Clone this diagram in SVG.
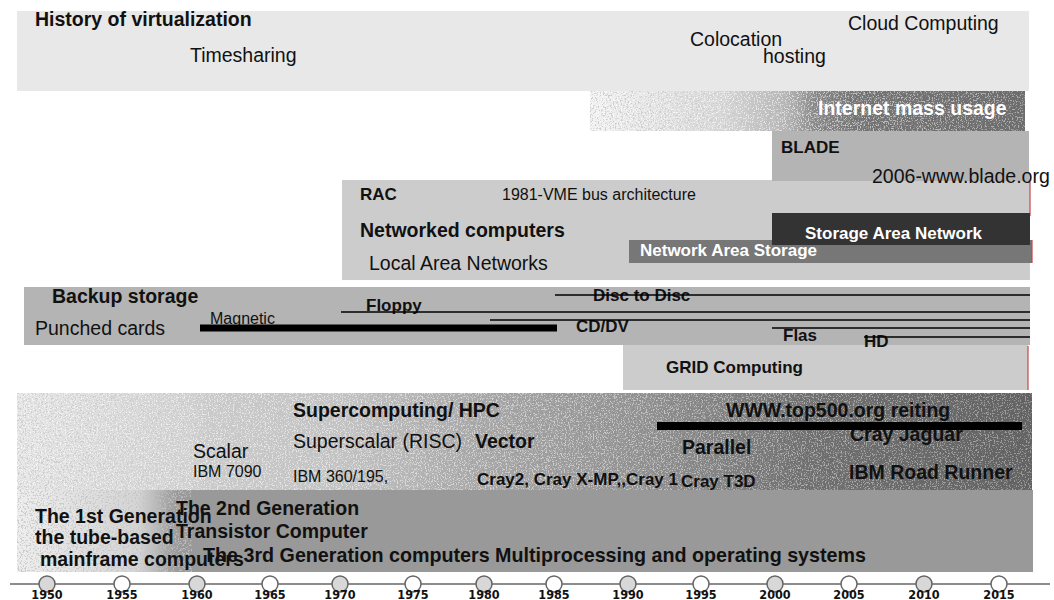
<svg xmlns="http://www.w3.org/2000/svg" width="1054" height="600" viewBox="0 0 1054 600">
<style>
text{font-family:"Liberation Sans",Arial,sans-serif;fill:#111}
.B{font-size:19.5px;font-weight:bold}
.R{font-size:19.5px}
.b{font-size:17px;font-weight:bold}
.r{font-size:16px}
.w{fill:#fff}
.yr{font-family:"Liberation Sans Narrow","DejaVu Sans Condensed",sans-serif;font-size:12.5px;font-weight:bold;text-anchor:middle}
.ln{stroke:#000;stroke-width:1.6}
.red{stroke:#c04848;stroke-width:1.2}
.tick{stroke:#666;stroke-width:1.5;fill:#fff}
.tick.g{fill:#d8d8d8}
</style>
<defs>
<linearGradient id="gInet" x1="0" x2="1" y1="0" y2="0">
<stop offset="0" stop-color="#f2f2f2"/><stop offset="0.3" stop-color="#d8d8d8"/><stop offset="0.45" stop-color="#b4b4b4"/><stop offset="0.52" stop-color="#858585"/><stop offset="0.62" stop-color="#717171"/><stop offset="1" stop-color="#6c6c6c"/>
</linearGradient>
<linearGradient id="gSuper" x1="0" x2="1" y1="0" y2="0">
<stop offset="0" stop-color="#e6e6e6"/><stop offset="0.17" stop-color="#d2d2d2"/><stop offset="0.19" stop-color="#cbcbcb"/><stop offset="0.32" stop-color="#c2c2c2"/><stop offset="0.45" stop-color="#a6a6a6"/><stop offset="0.62" stop-color="#8e8e8e"/><stop offset="0.78" stop-color="#6e6e6e"/><stop offset="1" stop-color="#626262"/>
</linearGradient>
<linearGradient id="gGen" x1="0" x2="1" y1="0" y2="0">
<stop offset="0" stop-color="#eeeeee"/><stop offset="0.12" stop-color="#d4d4d4"/><stop offset="0.15" stop-color="#a2a2a2"/><stop offset="0.16" stop-color="#999"/><stop offset="1" stop-color="#999"/>
</linearGradient>
<filter id="speck" x="0" y="0" width="100%" height="100%">
<feTurbulence type="fractalNoise" baseFrequency="0.75" numOctaves="2" seed="4" result="n"/>
<feColorMatrix in="n" type="matrix" values="0 0 0 0 1  0 0 0 0 1  0 0 0 0 1  9 0 0 0 -4.9"/>
<feComposite in2="SourceGraphic" operator="in"/>
</filter>
<filter id="dspeck" x="0" y="0" width="100%" height="100%">
<feTurbulence type="fractalNoise" baseFrequency="0.6" numOctaves="2" seed="9" result="n"/>
<feColorMatrix in="n" type="matrix" values="0 0 0 0 0.55  0 0 0 0 0.55  0 0 0 0 0.55  9 0 0 0 -4.8"/>
<feComposite in2="SourceGraphic" operator="in"/>
</filter>
<linearGradient id="fade" x1="0" x2="1"><stop offset="0" stop-color="#fff" stop-opacity="1"/><stop offset="1" stop-color="#fff" stop-opacity="0.6"/></linearGradient>
<linearGradient id="dfade" x1="0" x2="1"><stop offset="0" stop-color="#fff" stop-opacity="1"/><stop offset="0.4" stop-color="#fff" stop-opacity="0.6"/><stop offset="1" stop-color="#fff" stop-opacity="0"/></linearGradient>
</defs>
<rect width="1054" height="600" fill="#fff"/>

<g id="virtualization">
<rect x="17" y="11" width="1012" height="80" fill="#e8e8e8"/>
<text class="B" x="35" y="26">History of virtualization</text>
<text class="R" x="190" y="62">Timesharing</text>
<text class="R" x="690" y="46">Colocation</text>
<text class="R" x="763" y="63">hosting</text>
<text class="R" x="848" y="30">Cloud Computing</text>
</g>

<g id="internet">
<rect x="590" y="91" width="435" height="40" fill="url(#gInet)"/>
<rect x="590" y="91" width="435" height="40" fill="url(#dfade)" filter="url(#dspeck)" opacity="0.8"/>
<rect x="590" y="91" width="435" height="40" fill="url(#fade)" filter="url(#speck)" opacity="0.7"/>
<text class="B w" x="818" y="115">Internet mass usage</text>
</g>

<g id="rac">
<rect x="342" y="180" width="688" height="100" fill="#cccccc"/>
<line class="red" x1="1030" y1="182" x2="1030" y2="216"/>
<text class="b" x="360" y="200">RAC</text>
<text class="r" x="502" y="200">1981-VME bus architecture</text>
<text class="B" x="360" y="237">Networked computers</text>
<text class="R" x="369" y="270">Local Area Networks</text>
</g>

<g id="blade">
<rect x="772" y="131" width="257" height="50" fill="#b4b4b4"/>
<text class="b" x="781" y="153">BLADE</text>
<text class="R" x="872" y="183">2006-www.blade.org</text>
</g>

<g id="nas">
<rect x="629" y="240" width="403" height="23" fill="#777777"/>
<line class="red" x1="1032" y1="240" x2="1032" y2="263"/>
<text class="b w" x="640" y="256">Network Area Storage</text>
</g>

<g id="san">
<rect x="772" y="213" width="258" height="32" fill="#333333"/>
<text class="b w" x="805" y="239">Storage Area Network</text>
</g>

<g id="grid">
<rect x="623" y="345" width="405" height="45" fill="#cccccc"/>
<line class="red" x1="1028" y1="346" x2="1028" y2="390"/>
<text class="b" x="666" y="373">GRID Computing</text>
</g>

<g id="backup">
<rect x="24" y="287" width="1006" height="58" fill="#b4b4b4"/>
<text class="B" x="52" y="303">Backup storage</text>
<text class="R" x="35" y="335">Punched cards</text>
<text class="r" x="210" y="324">Magnetic</text>
<text class="b" x="366" y="311">Floppy</text>
<text class="b" x="593" y="301">Disc to Disc</text>
<text class="b" x="576" y="332">CD/DV</text>
<text class="b" x="783" y="341">Flas</text>
<text class="b" x="864" y="347">HD</text>
</g>

<g id="supercomputing">
<rect x="17" y="393" width="1015" height="99" fill="url(#gSuper)"/>
<rect x="17" y="393" width="1015" height="99" fill="url(#dfade)" filter="url(#dspeck)" opacity="0.7"/>
<rect x="17" y="393" width="1015" height="99" fill="url(#fade)" filter="url(#speck)" opacity="0.6"/>
<text class="B" x="293" y="417">Supercomputing/ HPC</text>
<text class="R" x="293" y="448">Superscalar (RISC)</text>
<text class="B" x="475" y="448">Vector</text>
<text class="R" x="193" y="458">Scalar</text>
<text class="r" x="193" y="477">IBM 7090</text>
<text class="r" x="293" y="482">IBM 360/195,</text>
<text class="b" x="477" y="485">Cray2, Cray X-MP,,Cray 1</text>
<text class="b" x="681" y="487">Cray T3D</text>
<text class="B" x="682" y="454">Parallel</text>
<text class="B" x="726" y="417">WWW.top500.org reiting</text>
<text class="B" x="850" y="441">Cray Jaguar</text>
<rect x="657" y="422" width="365" height="8" fill="#000"/>
<text class="B" x="849" y="479">IBM Road Runner</text>
</g>

<g id="generations">
<rect x="17" y="490" width="1016" height="82" fill="url(#gGen)"/>
<rect x="17" y="490" width="175" height="82" fill="#fff" filter="url(#dspeck)" opacity="0.8"/>
<text class="B" x="35" y="523">The 1st Generation</text>
<text class="B" x="35" y="544">the tube-based</text>
<text class="B" x="40" y="566">mainframe computers</text>
<text class="B" x="176" y="515">The 2nd Generation</text>
<text class="B" x="176" y="538">Transistor Computer</text>
<text class="B" x="203" y="562" style="font-size:19.7px">The 3rd Generation computers Multiprocessing and operating systems</text>
</g>

<g id="connectors">
<line x1="200" y1="328" x2="557" y2="328" stroke="#000" stroke-width="7"/>
<line class="ln" x1="341" y1="312" x2="1030" y2="312"/>
<line class="ln" x1="490" y1="320" x2="1030" y2="320"/>
<line class="ln" x1="555" y1="295" x2="1030" y2="295"/>
<line class="ln" x1="772" y1="328" x2="1030" y2="328"/>
<line class="ln" x1="864" y1="337" x2="1030" y2="337"/>
</g>

<g id="timeline">
<line x1="10" y1="584" x2="1050" y2="584" stroke="#666" stroke-width="1.5"/>
<circle class="tick g" cx="47" cy="584" r="8"/>
<circle class="tick" cx="122" cy="584" r="8"/>
<circle class="tick g" cx="197" cy="584" r="8"/>
<circle class="tick" cx="270" cy="584" r="8"/>
<circle class="tick g" cx="340" cy="584" r="8"/>
<circle class="tick" cx="413" cy="584" r="8"/>
<circle class="tick g" cx="484" cy="584" r="8"/>
<circle class="tick" cx="554" cy="584" r="8"/>
<circle class="tick g" cx="628" cy="584" r="8"/>
<circle class="tick" cx="701" cy="584" r="8"/>
<circle class="tick g" cx="775" cy="584" r="8"/>
<circle class="tick" cx="849" cy="584" r="8"/>
<circle class="tick g" cx="924" cy="584" r="8"/>
<circle class="tick" cx="999" cy="584" r="8"/>
<text class="yr" x="47" y="599">1950</text>
<text class="yr" x="122" y="599">1955</text>
<text class="yr" x="197" y="599">1960</text>
<text class="yr" x="270" y="599">1965</text>
<text class="yr" x="340" y="599">1970</text>
<text class="yr" x="413" y="599">1975</text>
<text class="yr" x="484" y="599">1980</text>
<text class="yr" x="554" y="599">1985</text>
<text class="yr" x="628" y="599">1990</text>
<text class="yr" x="701" y="599">1995</text>
<text class="yr" x="775" y="599">2000</text>
<text class="yr" x="849" y="599">2005</text>
<text class="yr" x="924" y="599">2010</text>
<text class="yr" x="999" y="599">2015</text>
</g>
</svg>
